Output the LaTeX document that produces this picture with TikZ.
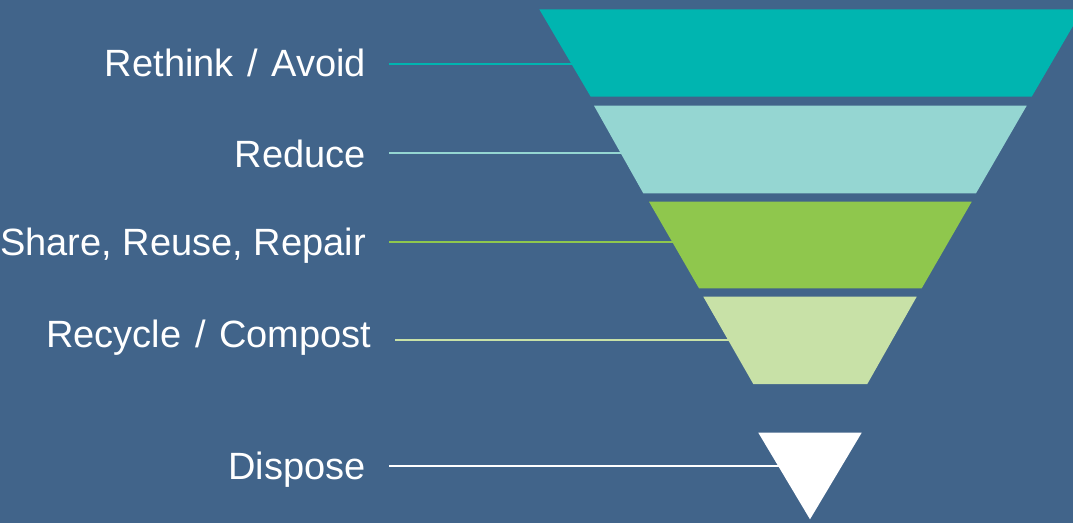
\documentclass[tikz,border=0pt]{standalone}
\usepackage{fontspec}
\setmainfont{Liberation Sans}
\definecolor{bg}{HTML}{41648A}
\definecolor{teal1}{HTML}{00B5B0}
\definecolor{teal2}{HTML}{95D6D2}
\definecolor{green1}{HTML}{8FC74D}
\definecolor{green2}{HTML}{C8E1A7}
\newcommand{\slsh}{\hspace{3pt}/\hspace{3pt}}
\begin{document}
\begin{tikzpicture}[x=1pt,y=-1pt,
  lbl/.style={anchor=base east,inner sep=0pt,text=white,font=\fontsize{38}{45}\selectfont},
  conn/.style={line width=2pt}]
\useasboundingbox (0,0) rectangle (1073,523);
\fill[bg] (0,0) rectangle (1073,523);
% labels
\node[lbl] (t1) at (366,76.7) {Rethink \slsh{} Avoid};
\node[lbl] (t2) at (366,167.3) {Reduce};
\node[lbl] (t3) at (366,255) {Share, Reuse, Repair};
\node[lbl] (t4) at (371.5,347.7) {Recycle \slsh{} Compost};
\node[lbl] (t5) at (366,479.5) {Dispose};
% connector ends
\coordinate (s1) at (389,63.5);   \coordinate (e1) at (575,63.5);
\coordinate (s2) at (389,152.5);  \coordinate (e2) at (625,152.5);
\coordinate (s3) at (389,241.7);  \coordinate (e3) at (676,241.7);
\coordinate (s4) at (395,340);    \coordinate (e4) at (733,340);
\coordinate (s5) at (389,466);    \coordinate (e5) at (782,466);
\draw[conn,teal1] (s1) -- (e1);
\draw[conn,teal2] (s2) -- (e2);
\draw[conn,green1] (s3) -- (e3);
\draw[conn,green2] (s4) -- (e4);
\draw[conn,white] (s5) -- (e5);
% funnel bands
\fill[teal1] (539.3,9.3) -- (1082.7,9.3) -- (1031.7,96.7) -- (590.7,96.7) -- cycle;
\fill[teal2] (594,105.7) -- (1026.7,105.7) -- (976,193.3) -- (643.3,193.3) -- cycle;
\fill[green1] (649,201.7) -- (971.7,201.7) -- (921.7,288.3) -- (699,288.3) -- cycle;
\fill[green2] (703.3,296.7) -- (916.7,296.7) -- (867.3,384) -- (753.3,384) -- cycle;
\fill[white] (758.3,432.7) -- (861.7,432.7) -- (810,519.3) -- cycle;
\end{tikzpicture}
\end{document}
